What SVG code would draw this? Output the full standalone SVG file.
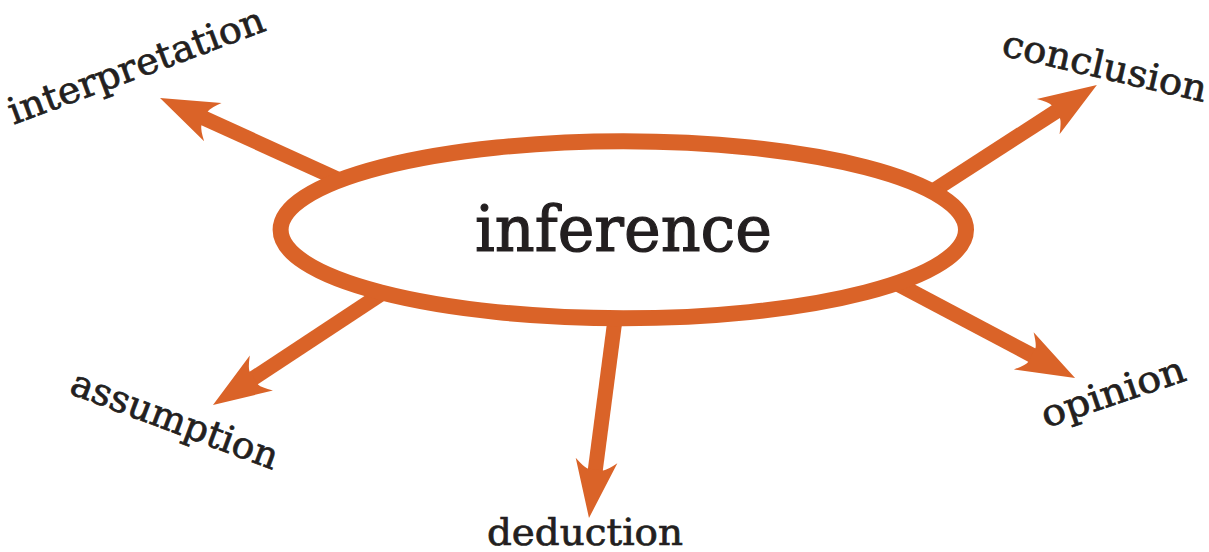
<svg xmlns="http://www.w3.org/2000/svg" width="1209" height="552" viewBox="0 0 1209 552">
<style>
.conn{stroke:#DA6328;stroke-width:15;fill:none;stroke-linecap:butt}
.node{fill:#fff;stroke:#DA6328;stroke-width:16}
.lbl{font-family:"DejaVu Serif","Liberation Serif",serif;fill:#231F20;stroke:#231F20;text-anchor:middle}
.small{font-size:37px;stroke-width:0.7}
.big{font-size:64px;stroke-width:1.2}
</style>
<defs>
<marker id="head" markerUnits="userSpaceOnUse" orient="auto" viewBox="-20 -30 80 60" markerWidth="80" markerHeight="60" refX="0" refY="0" overflow="visible">
<path d="M47,0 L-11,-21 Q-3,-12 -2,-8 L-2,8 Q-3,12 -11,21 Z" fill="#DA6328"/>
</marker>
</defs>
<rect width="1209" height="552" fill="#fff"/>
<g id="connectors">
<line class="conn" x1="342" y1="181" x2="202.8" y2="117.6" marker-end="url(#head)"/>
<line class="conn" x1="924.4" y1="196.5" x2="1057.4" y2="110.6" marker-end="url(#head)"/>
<line class="conn" x1="380" y1="294.8" x2="252.2" y2="379.1" marker-end="url(#head)"/>
<line class="conn" x1="893.8" y1="282" x2="1033.5" y2="356" marker-end="url(#head)"/>
<line class="conn" x1="616" y1="312" x2="595.1" y2="471.4" marker-end="url(#head)"/>
</g>
<g id="inference">
<ellipse class="node" cx="623.3" cy="229.8" rx="342.7" ry="88.5"/>
<text class="lbl big" x="623.5" y="251" textLength="297" lengthAdjust="spacingAndGlyphs">inference</text>
</g>
<g id="interpretation">
<text class="lbl small" transform="translate(140.5,77.5) rotate(-20.4)" textLength="271" lengthAdjust="spacingAndGlyphs">interpretation</text>
</g>
<g id="conclusion">
<text class="lbl small" transform="translate(1102,78.5) rotate(13)" textLength="209" lengthAdjust="spacingAndGlyphs">conclusion</text>
</g>
<g id="assumption">
<text class="lbl small" transform="translate(170.5,431.5) rotate(20.6)" textLength="219" lengthAdjust="spacingAndGlyphs">assumption</text>
</g>
<g id="opinion">
<text class="lbl small" transform="translate(1117,404) rotate(-18.7)" textLength="150" lengthAdjust="spacingAndGlyphs">opinion</text>
</g>
<g id="deduction">
<text class="lbl small" x="585" y="545" textLength="196" lengthAdjust="spacingAndGlyphs">deduction</text>
</g>
</svg>
